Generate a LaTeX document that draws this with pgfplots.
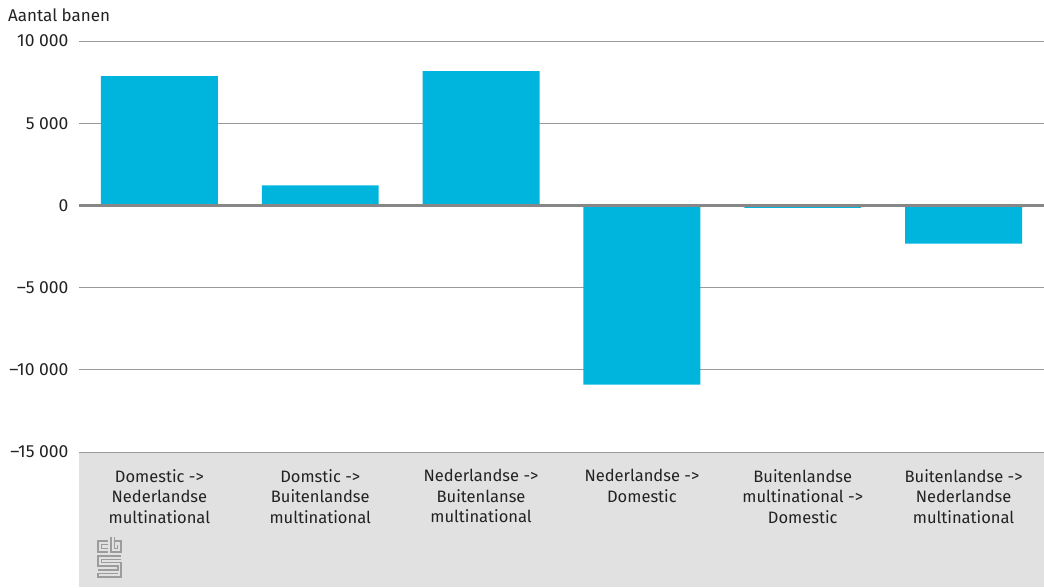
\documentclass[border=0pt]{standalone}
\usepackage{fontspec}
\setmainfont{Fira Sans}
\usepackage{pgfplots}
\pgfplotsset{compat=1.18}
\definecolor{barblue}{HTML}{00B5DD}
\definecolor{gridgray}{HTML}{9A9A9A}
\definecolor{zerogray}{HTML}{878787}
\definecolor{bandgray}{HTML}{E1E1E1}
\definecolor{txt}{HTML}{222222}
\definecolor{logogray}{HTML}{9C9C9C}
\begin{document}
\begin{tikzpicture}[x=1pt,y=1pt]
\useasboundingbox (0,0) rectangle (1044,587);
\fill[bandgray] (79,0) rectangle (1044,135);
\begin{axis}[
  at={(79pt,135pt)}, anchor=south west,
  scale only axis, width=965pt, height=411pt,
  xmin=-0.5, xmax=5.5, ymin=-15000, ymax=10000,
  enlargelimits=false,
  axis line style={draw=none},
  major tick length=0pt,
  ytick={-15000,-10000,-5000,0,5000,10000},
  yticklabels={–15 000,–10 000,–5 000,0,5 000,10 000},
  ymajorgrids, grid style={gridgray, line width=0.9pt},
  xtick={0,1,2,3,4,5},
  xticklabels={{Domestic ->\\Nederlandse\\multinational},
               {Domstic ->\\Buitenlandse\\multinational},
               {Nederlandse ->\\Buitenlanse\\multinational},
               {Nederlandse ->\\Domestic},
               {Buitenlandse\\multinational ->\\Domestic},
               {Buitenlandse ->\\Nederlandse\\multinational}},
  xticklabel style={align=center, font=\fontsize{16.5}{20.5}\selectfont, text=txt, anchor=north, yshift=-14pt},
  yticklabel style={font=\fontsize{17.5}{18}\selectfont, text=txt, xshift=-7pt},
  scaled y ticks=false,
  ybar, bar width=0.727,
]
\addplot[fill=barblue, draw=none] coordinates {(0,7870) (1,1220) (2,8170) (3,-10900) (4,-150) (5,-2320)};
\draw[zerogray, line width=3.6pt] (axis cs:-0.5,0) -- (axis cs:5.5,0);
\end{axis}
\node[anchor=west, font=\fontsize{17}{18}\selectfont, text=txt, inner sep=0pt] at (8,572) {Aantal banen};
% logo
\begin{scope}[logogray, line width=1.1pt]
\draw (108,46) -- (98,46) -- (98,35) -- (108,35);
\draw (108,42.5) -- (101.5,42.5) -- (101.5,38.5) -- (108,38.5);
\draw (111,50) -- (111,35) -- (121,35) -- (121,46) -- (114.5,46);
\draw (114.5,50) -- (114.5,38.5) -- (117.5,38.5) -- (117.5,42.5);
\draw (121,31) -- (98,31) -- (98,21) -- (118,21) -- (118,17) -- (98,17);
\draw (121,27.5) -- (101.5,27.5) -- (101.5,24.5) -- (121,24.5) -- (121,10) -- (98,10) -- (98,13.5) -- (118,13.5);
\end{scope}
\end{tikzpicture}
\end{document}
